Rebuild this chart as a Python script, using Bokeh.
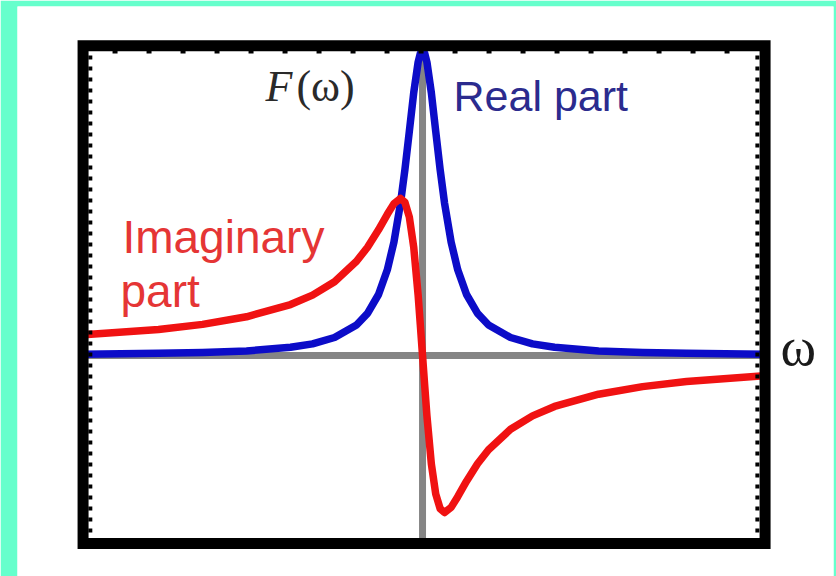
from bokeh.plotting import figure
from bokeh.embed import file_html
from bokeh.resources import INLINE
from bokeh.core.properties import value

# Response function F(w) of a damped oscillator, sampled against detuning
# (in units of the linewidth).
omega = [-15.4, -12, -10, -8, -6, -5, -4, -3, -2.5, -2, -1.6, -1.3, -1, -0.8,
         -0.6, -0.4, -0.2, -0.1, 0, 0.1, 0.2, 0.4, 0.6, 0.8, 1, 1.3, 1.6, 2,
         2.5, 3, 4, 5, 6, 8, 10, 12, 15.6]
real_part = [0.004, 0.007, 0.010, 0.015, 0.027, 0.038, 0.059, 0.100, 0.138,
             0.200, 0.281, 0.372, 0.500, 0.610, 0.735, 0.862, 0.962, 0.990,
             1.000, 0.990, 0.962, 0.862, 0.735, 0.610, 0.500, 0.372, 0.281,
             0.200, 0.138, 0.100, 0.059, 0.038, 0.027, 0.015, 0.010, 0.007,
             0.004]
imag_part = [0.068, 0.085, 0.102, 0.127, 0.167, 0.198, 0.242, 0.309, 0.355,
             0.412, 0.463, 0.498, 0.515, 0.502, 0.454, 0.355, 0.198, 0.100,
             0.0, -0.100, -0.198, -0.355, -0.454, -0.502, -0.515, -0.498,
             -0.463, -0.412, -0.355, -0.309, -0.242, -0.198, -0.167, -0.127,
             -0.102, -0.085, -0.066]

label_fn = ["F", "(ω)"]
label_real = "Real part"
label_imag = ["Imaginary", "part"]
label_axis = "ω"

# Plot box (data units)
BOX_L, BOX_R, BOX_B, BOX_T = -15.43, 15.57, -0.616, 1.016

AQUA = "#66ffcc"
BLUE = "#0c0cc8"
RED = "#f01212"
GREY = "#858585"

p = figure(width=836, height=576, output_backend="svg", toolbar_location=None,
           x_range=(-18.41, 18.68), y_range=(-0.7246, 1.1443),
           x_axis_type=None, y_axis_type=None,
           min_border_left=17, min_border_top=6, min_border_right=3,
           min_border_bottom=0,
           border_fill_color=AQUA, background_fill_color="white",
           outline_line_color=None)
p.grid.visible = False

# zero lines
p.segment(x0=[BOX_L], y0=[0], x1=[BOX_R], y1=[0], line_color=GREY, line_width=7)
p.segment(x0=[0], y0=[BOX_B], x1=[0], y1=[BOX_T], line_color=GREY, line_width=7)

# curves
p.line(omega, real_part, line_color=BLUE, line_width=7.5, line_join="round")
p.line(omega, imag_part, line_color=RED, line_width=7.5, line_join="round")

# inner tick marks along the frame
p.line([-14.09, 15.2], [0.997, 0.997], line_color="black", line_width=4,
       line_dash="5 29")
p.line([-15.1, -15.1], [BOX_B, BOX_T], line_color="black", line_width=4,
       line_dash="4 7")
p.line([15.22, 15.22], [BOX_B, BOX_T], line_color="black", line_width=4,
       line_dash="4 7")

# frame
p.quad(left=[BOX_L], right=[BOX_R], bottom=[BOX_B], top=[BOX_T],
       fill_color=None, line_color="black", line_width=11, line_join="miter")

# labels
p.text(x=[-7.14], y=[0.882], text=[label_fn[0]], text_font=value("Liberation Serif"),
       text_font_style="italic", text_font_size="44px", text_color="#2a2a2a",
       text_baseline="alphabetic", text_align="left")
p.text(x=[-5.73], y=[0.882], text=[label_fn[1]], text_font=value("Liberation Serif"),
       text_font_size="44px", text_color="#2a2a2a",
       text_baseline="alphabetic", text_align="left")
p.text(x=[1.41], y=[0.85], text=[label_real], text_font=value("Liberation Sans"),
       text_font_size="43px", text_color="#2b2b8e",
       text_baseline="alphabetic", text_align="left")
p.text(x=[-13.64, -13.73], y=[0.39, 0.213], text=label_imag,
       text_font=value("Liberation Sans"), text_font_size="46px",
       text_color="#e53535", text_baseline="alphabetic", text_align="left")
p.text(x=[16.27], y=[0.027], text=[label_axis], text_font=value("Liberation Serif"),
       text_font_size="54px", text_color="#1a1a1a",
       text_baseline="alphabetic", text_align="left")

open("out.html", "w").write(file_html(p, INLINE))
